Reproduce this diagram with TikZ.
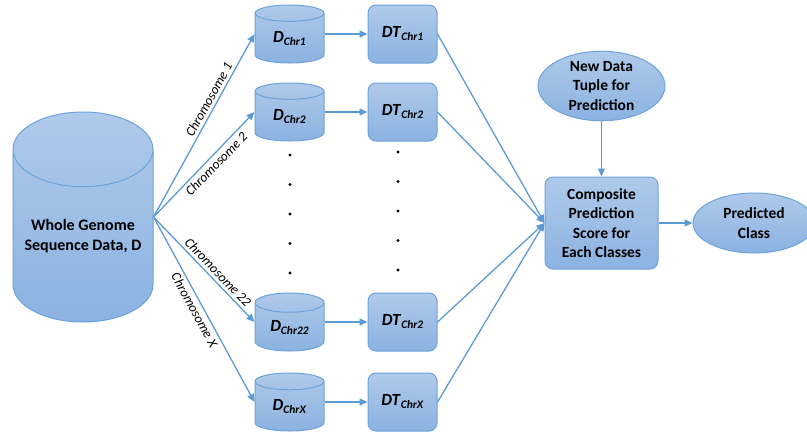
\documentclass[tikz,border=0pt]{standalone}
\usepackage{fontspec}
\setmainfont{Carlito}
\usetikzlibrary{shapes.geometric, positioning, arrows.meta}
\definecolor{lineblue}{HTML}{5B9BD5}
\definecolor{filltop}{HTML}{AFCAEA}
\definecolor{fillbot}{HTML}{8BB2E1}
\definecolor{edgeblue}{HTML}{6EA3DA}
\newcommand*{\chrsub}[2]{\textbf{\textit{#1}}\raisebox{-3pt}{\fontsize{11.5}{11.5}\selectfont\textbf{\textit{#2}}}}

\begin{document}
\begin{tikzpicture}[x=1pt,y=1pt,
 db/.style={cylinder, shape border rotate=90, draw=edgeblue, line width=1pt, anchor=shape center,
  top color=filltop, bottom color=fillbot, inner sep=0pt, font=\fontsize{17}{19.5}\selectfont},
 treebox/.style={rectangle, rounded corners=8pt, draw=edgeblue, line width=1pt,
  top color=filltop, bottom color=fillbot, minimum width=69, minimum height=58,
  inner sep=0pt, font=\fontsize{17}{19.5}\selectfont},
 blob/.style={ellipse, draw=edgeblue, line width=1pt, top color=filltop, bottom color=fillbot,
  inner sep=0pt, align=center, font=\fontsize{15.5}{19.5}\selectfont\bfseries},
 conn/.style={draw=lineblue, line width=1.3pt, -{Triangle[length=8pt,width=7pt]}},
 chrlabel/.style={sloped, font=\fontsize{13.5}{13.5}\selectfont\itshape, inner sep=3pt}]

 \useasboundingbox (0,0) rectangle (807,-432);

 \node[db, minimum width=140, minimum height=210, aspect=0.64, align=center,
  font=\fontsize{16}{19.5}\selectfont\bfseries] (whole) at (83,-217) {Whole Genome\\Sequence Data, D};
 \coordinate (fan) at (whole.shape center -| whole.east);

 \node[db, minimum width=69, minimum height=58, aspect=0.5] (dchr1) at (289.5,-34) {\chrsub{D}{Chr1}};
 \node[db, minimum width=69, minimum height=58, aspect=0.5] (dchr2) at (289.5,-112) {\chrsub{D}{Chr2}};
 \node[db, minimum width=69, minimum height=58, aspect=0.5] (dchr22) at (289.5,-322) {\chrsub{D}{Chr22}};
 \node[db, minimum width=69, minimum height=58, aspect=0.5] (dchrx) at (289.5,-402) {\chrsub{D}{ChrX}};

 \node[treebox] (dtchr1) at (402.5,-34) {\chrsub{DT}{Chr1}};
 \node[treebox] (dtchr2) at (402.5,-112) {\chrsub{DT}{Chr2}};
 \node[treebox] (dtchr22) at (402.5,-322) {\chrsub{DT}{Chr2}};
 \node[treebox] (dtchrx) at (402.5,-402) {\chrsub{DT}{ChrX}};

 \node[treebox, minimum width=113, minimum height=92, align=center,
  font=\fontsize{15.5}{19.5}\selectfont\bfseries] (comp) at (601.5,-223) {Composite\\Prediction\\Score for\\Each Classes};
 \node[blob, minimum width=127, minimum height=68] (newdata) at (601.5,-86) {New Data\\Tuple for\\Prediction};
 \node[blob, minimum width=122, minimum height=60] (pred) at (754,-223) {Predicted\\Class};

 \draw[conn] (fan) -- node[chrlabel, above, pos=0.62] {Chromosome 1} (dchr1.shape center -| dchr1.west);
 \draw[conn] (fan) -- node[chrlabel, below, pos=0.56] {Chromosome 2} (dchr2.shape center -| dchr2.west);
 \draw[conn] (fan) -- node[chrlabel, above, pos=0.58] {Chromosome 22} (dchr22.shape center -| dchr22.west);
 \draw[conn] (fan) -- node[chrlabel, below, pos=0.48] {Chromosome X} (dchrx.shape center -| dchrx.west);

 \draw[conn] (dchr1.shape center -| dchr1.east) -- (dtchr1.west);
 \draw[conn] (dchr2.shape center -| dchr2.east) -- (dtchr2.west);
 \draw[conn] (dchr22.shape center -| dchr22.east) -- (dtchr22.west);
 \draw[conn] (dchrx.shape center -| dchrx.east) -- (dtchrx.west);

 \draw[conn] (dtchr1.east) -- (comp.west);
 \draw[conn] (dtchr2.east) -- (comp.west);
 \draw[conn] (dtchr22.east) -- (comp.west);
 \draw[conn] (dtchrx.east) -- (comp.west);

 \draw[conn] (newdata.south) -- (comp.north);
 \draw[conn] (comp.east) -- (pred.west);

 \foreach \i in {0,...,4} {
  \fill (290,-155-29.5*\i) circle (1.6);
  \fill (398,-152-29.5*\i) circle (1.6);
 }
\end{tikzpicture}
\end{document}
